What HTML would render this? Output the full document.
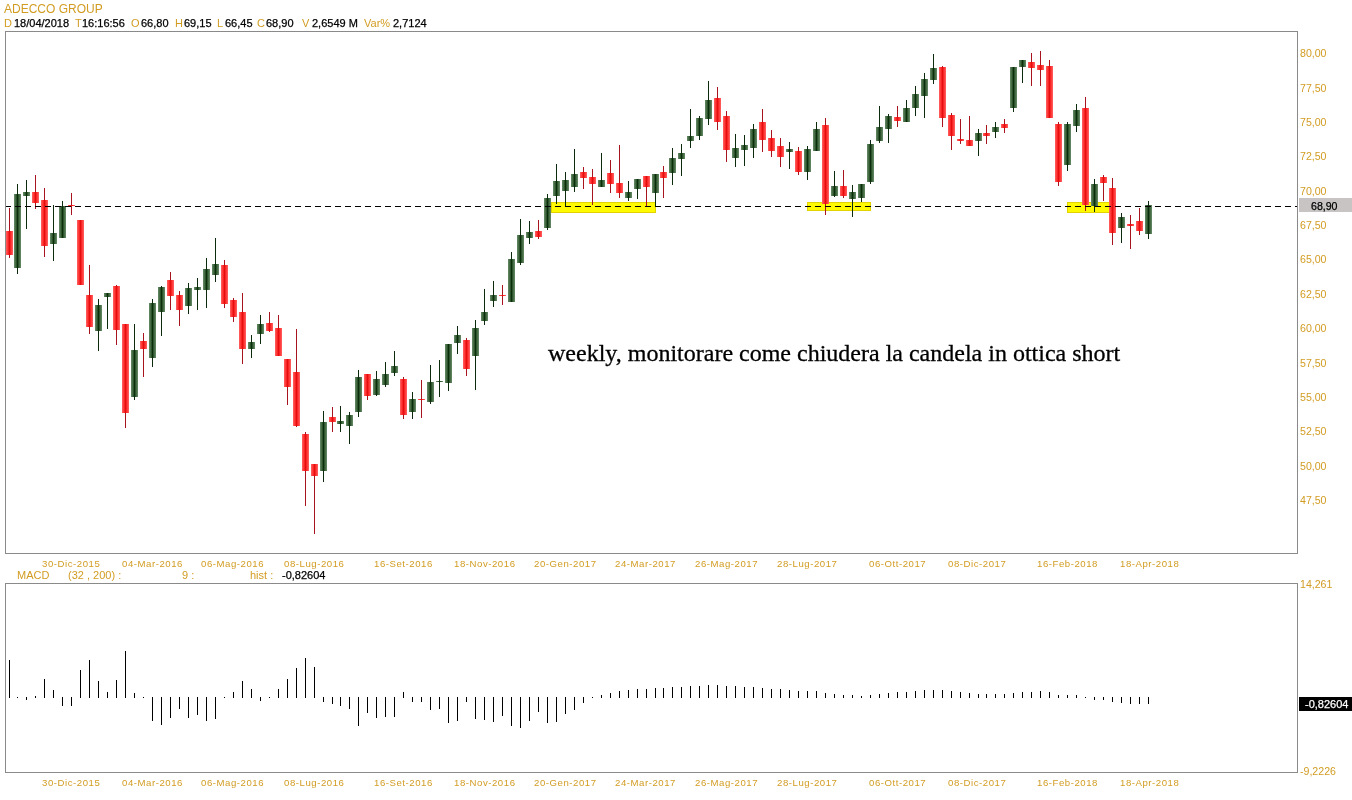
<!DOCTYPE html>
<html><head><meta charset="utf-8"><style>
html,body{margin:0;padding:0;background:#fff;}
body{width:1352px;height:800px;position:relative;overflow:hidden;}
.t{position:absolute;white-space:nowrap;will-change:transform;font-family:"Liberation Sans",sans-serif;line-height:1;}
.serif{font-family:"Liberation Serif",serif;}
</style></head><body>
<svg width="1352" height="800" style="position:absolute;left:0;top:0" shape-rendering="crispEdges"><defs><linearGradient id="gg" x1="0" x2="1" y1="0" y2="0"><stop offset="0" stop-color="#6A8C6A"/><stop offset="0.3" stop-color="#3A623A"/><stop offset="0.5" stop-color="#0A2E0A"/><stop offset="0.7" stop-color="#3A623A"/><stop offset="1" stop-color="#6A8C6A"/></linearGradient><linearGradient id="rg" x1="0" x2="1" y1="0" y2="0"><stop offset="0" stop-color="#FF6464"/><stop offset="0.3" stop-color="#FF2E2E"/><stop offset="0.5" stop-color="#E40E0E"/><stop offset="0.7" stop-color="#FF2E2E"/><stop offset="1" stop-color="#FF6464"/></linearGradient></defs><rect x="551" y="202" width="105" height="11" fill="#E2D200"/><rect x="552" y="203" width="103" height="9" fill="#FFFA00"/><rect x="807" y="202" width="64" height="9" fill="#E2D200"/><rect x="808" y="203" width="62" height="7" fill="#FFFA00"/><rect x="1067" y="202" width="43" height="11" fill="#E2D200"/><rect x="1068" y="203" width="41" height="9" fill="#FFFA00"/><rect x="6" y="231" width="7" height="24" fill="url(#rg)"/><rect x="9" y="208" width="1" height="23" fill="#A8141E"/><rect x="9" y="255" width="1" height="3" fill="#A8141E"/><rect x="14" y="194" width="7" height="74" fill="url(#gg)"/><rect x="17" y="184" width="1" height="10" fill="#0C2A0C"/><rect x="17" y="268" width="1" height="6" fill="#0C2A0C"/><rect x="23" y="192" width="7" height="4" fill="url(#gg)"/><rect x="26" y="180" width="1" height="12" fill="#0C2A0C"/><rect x="26" y="196" width="1" height="33" fill="#0C2A0C"/><rect x="32" y="192" width="7" height="11" fill="url(#rg)"/><rect x="35" y="175" width="1" height="17" fill="#A8141E"/><rect x="35" y="203" width="1" height="6" fill="#A8141E"/><rect x="41" y="200" width="7" height="46" fill="url(#rg)"/><rect x="44" y="188" width="1" height="12" fill="#A8141E"/><rect x="44" y="246" width="1" height="11" fill="#A8141E"/><rect x="50" y="233" width="7" height="11" fill="url(#gg)"/><rect x="53" y="205" width="1" height="28" fill="#0C2A0C"/><rect x="53" y="244" width="1" height="17" fill="#0C2A0C"/><rect x="59" y="206" width="7" height="32" fill="url(#gg)"/><rect x="62" y="201" width="1" height="5" fill="#0C2A0C"/><rect x="68" y="205" width="7" height="1" fill="url(#rg)"/><rect x="71" y="193" width="1" height="12" fill="#A8141E"/><rect x="71" y="206" width="1" height="9" fill="#A8141E"/><rect x="77" y="220" width="7" height="65" fill="url(#rg)"/><rect x="86" y="295" width="7" height="32" fill="url(#rg)"/><rect x="89" y="265" width="1" height="30" fill="#A8141E"/><rect x="89" y="327" width="1" height="7" fill="#A8141E"/><rect x="95" y="305" width="7" height="26" fill="url(#gg)"/><rect x="98" y="299" width="1" height="6" fill="#0C2A0C"/><rect x="98" y="331" width="1" height="20" fill="#0C2A0C"/><rect x="104" y="293" width="7" height="4" fill="url(#gg)"/><rect x="107" y="297" width="1" height="32" fill="#0C2A0C"/><rect x="113" y="286" width="7" height="44" fill="url(#rg)"/><rect x="116" y="285" width="1" height="1" fill="#A8141E"/><rect x="116" y="330" width="1" height="15" fill="#A8141E"/><rect x="122" y="324" width="7" height="89" fill="url(#rg)"/><rect x="125" y="413" width="1" height="15" fill="#A8141E"/><rect x="131" y="350" width="7" height="47" fill="url(#gg)"/><rect x="134" y="324" width="1" height="26" fill="#0C2A0C"/><rect x="134" y="397" width="1" height="3" fill="#0C2A0C"/><rect x="140" y="341" width="7" height="8" fill="url(#rg)"/><rect x="143" y="333" width="1" height="8" fill="#A8141E"/><rect x="143" y="349" width="1" height="28" fill="#A8141E"/><rect x="149" y="303" width="7" height="55" fill="url(#gg)"/><rect x="152" y="299" width="1" height="4" fill="#0C2A0C"/><rect x="152" y="358" width="1" height="9" fill="#0C2A0C"/><rect x="158" y="287" width="7" height="25" fill="url(#gg)"/><rect x="161" y="286" width="1" height="1" fill="#0C2A0C"/><rect x="161" y="312" width="1" height="24" fill="#0C2A0C"/><rect x="167" y="280" width="7" height="16" fill="url(#rg)"/><rect x="170" y="272" width="1" height="8" fill="#A8141E"/><rect x="170" y="296" width="1" height="14" fill="#A8141E"/><rect x="176" y="295" width="7" height="15" fill="url(#rg)"/><rect x="179" y="291" width="1" height="4" fill="#A8141E"/><rect x="179" y="310" width="1" height="16" fill="#A8141E"/><rect x="185" y="288" width="7" height="18" fill="url(#gg)"/><rect x="188" y="283" width="1" height="5" fill="#0C2A0C"/><rect x="188" y="306" width="1" height="8" fill="#0C2A0C"/><rect x="194" y="287" width="7" height="3" fill="url(#gg)"/><rect x="197" y="278" width="1" height="9" fill="#0C2A0C"/><rect x="197" y="290" width="1" height="20" fill="#0C2A0C"/><rect x="203" y="269" width="7" height="21" fill="url(#gg)"/><rect x="206" y="258" width="1" height="11" fill="#0C2A0C"/><rect x="206" y="290" width="1" height="18" fill="#0C2A0C"/><rect x="212" y="264" width="7" height="11" fill="url(#gg)"/><rect x="215" y="238" width="1" height="26" fill="#0C2A0C"/><rect x="215" y="275" width="1" height="7" fill="#0C2A0C"/><rect x="221" y="265" width="7" height="39" fill="url(#rg)"/><rect x="224" y="260" width="1" height="5" fill="#A8141E"/><rect x="224" y="304" width="1" height="4" fill="#A8141E"/><rect x="230" y="300" width="7" height="17" fill="url(#rg)"/><rect x="233" y="298" width="1" height="2" fill="#A8141E"/><rect x="233" y="317" width="1" height="5" fill="#A8141E"/><rect x="239" y="312" width="7" height="37" fill="url(#rg)"/><rect x="242" y="293" width="1" height="19" fill="#A8141E"/><rect x="242" y="349" width="1" height="15" fill="#A8141E"/><rect x="248" y="342" width="7" height="7" fill="url(#gg)"/><rect x="251" y="335" width="1" height="7" fill="#0C2A0C"/><rect x="251" y="349" width="1" height="9" fill="#0C2A0C"/><rect x="257" y="324" width="7" height="10" fill="url(#gg)"/><rect x="260" y="315" width="1" height="9" fill="#0C2A0C"/><rect x="260" y="334" width="1" height="10" fill="#0C2A0C"/><rect x="266" y="323" width="7" height="8" fill="url(#rg)"/><rect x="269" y="312" width="1" height="11" fill="#A8141E"/><rect x="269" y="331" width="1" height="1" fill="#A8141E"/><rect x="275" y="328" width="7" height="28" fill="url(#rg)"/><rect x="278" y="315" width="1" height="13" fill="#A8141E"/><rect x="284" y="359" width="7" height="28" fill="url(#rg)"/><rect x="287" y="387" width="1" height="18" fill="#A8141E"/><rect x="293" y="372" width="7" height="54" fill="url(#rg)"/><rect x="296" y="329" width="1" height="43" fill="#A8141E"/><rect x="296" y="426" width="1" height="1" fill="#A8141E"/><rect x="302" y="434" width="7" height="37" fill="url(#rg)"/><rect x="305" y="432" width="1" height="2" fill="#A8141E"/><rect x="305" y="471" width="1" height="35" fill="#A8141E"/><rect x="311" y="464" width="7" height="12" fill="url(#rg)"/><rect x="314" y="476" width="1" height="58" fill="#A8141E"/><rect x="320" y="422" width="7" height="49" fill="url(#gg)"/><rect x="323" y="411" width="1" height="11" fill="#0C2A0C"/><rect x="323" y="471" width="1" height="11" fill="#0C2A0C"/><rect x="329" y="417" width="7" height="5" fill="url(#rg)"/><rect x="332" y="407" width="1" height="10" fill="#A8141E"/><rect x="332" y="422" width="1" height="10" fill="#A8141E"/><rect x="337" y="421" width="7" height="3" fill="url(#gg)"/><rect x="340" y="406" width="1" height="15" fill="#0C2A0C"/><rect x="340" y="424" width="1" height="8" fill="#0C2A0C"/><rect x="346" y="415" width="7" height="11" fill="url(#gg)"/><rect x="349" y="412" width="1" height="3" fill="#0C2A0C"/><rect x="349" y="426" width="1" height="18" fill="#0C2A0C"/><rect x="355" y="377" width="7" height="35" fill="url(#gg)"/><rect x="358" y="370" width="1" height="7" fill="#0C2A0C"/><rect x="358" y="412" width="1" height="5" fill="#0C2A0C"/><rect x="364" y="374" width="7" height="22" fill="url(#rg)"/><rect x="367" y="396" width="1" height="4" fill="#A8141E"/><rect x="373" y="379" width="7" height="16" fill="url(#gg)"/><rect x="376" y="371" width="1" height="8" fill="#0C2A0C"/><rect x="376" y="395" width="1" height="1" fill="#0C2A0C"/><rect x="382" y="374" width="7" height="11" fill="url(#gg)"/><rect x="385" y="362" width="1" height="12" fill="#0C2A0C"/><rect x="385" y="385" width="1" height="2" fill="#0C2A0C"/><rect x="391" y="366" width="7" height="7" fill="url(#gg)"/><rect x="394" y="351" width="1" height="15" fill="#0C2A0C"/><rect x="394" y="373" width="1" height="3" fill="#0C2A0C"/><rect x="400" y="379" width="7" height="36" fill="url(#rg)"/><rect x="403" y="377" width="1" height="2" fill="#A8141E"/><rect x="403" y="415" width="1" height="4" fill="#A8141E"/><rect x="409" y="399" width="7" height="13" fill="url(#gg)"/><rect x="412" y="392" width="1" height="7" fill="#0C2A0C"/><rect x="412" y="412" width="1" height="7" fill="#0C2A0C"/><rect x="418" y="399" width="7" height="1" fill="url(#rg)"/><rect x="421" y="380" width="1" height="19" fill="#A8141E"/><rect x="421" y="400" width="1" height="18" fill="#A8141E"/><rect x="427" y="382" width="7" height="20" fill="url(#gg)"/><rect x="430" y="365" width="1" height="17" fill="#0C2A0C"/><rect x="430" y="402" width="1" height="2" fill="#0C2A0C"/><rect x="436" y="381" width="7" height="1" fill="url(#gg)"/><rect x="439" y="360" width="1" height="21" fill="#0C2A0C"/><rect x="439" y="382" width="1" height="15" fill="#0C2A0C"/><rect x="445" y="344" width="7" height="39" fill="url(#gg)"/><rect x="448" y="383" width="1" height="8" fill="#0C2A0C"/><rect x="454" y="335" width="7" height="8" fill="url(#gg)"/><rect x="457" y="326" width="1" height="9" fill="#0C2A0C"/><rect x="457" y="343" width="1" height="11" fill="#0C2A0C"/><rect x="463" y="340" width="7" height="29" fill="url(#rg)"/><rect x="466" y="338" width="1" height="2" fill="#A8141E"/><rect x="466" y="369" width="1" height="7" fill="#A8141E"/><rect x="472" y="328" width="7" height="28" fill="url(#gg)"/><rect x="475" y="320" width="1" height="8" fill="#0C2A0C"/><rect x="475" y="356" width="1" height="34" fill="#0C2A0C"/><rect x="481" y="312" width="7" height="9" fill="url(#gg)"/><rect x="484" y="289" width="1" height="23" fill="#0C2A0C"/><rect x="484" y="321" width="1" height="4" fill="#0C2A0C"/><rect x="490" y="295" width="7" height="6" fill="url(#gg)"/><rect x="493" y="281" width="1" height="14" fill="#0C2A0C"/><rect x="493" y="301" width="1" height="6" fill="#0C2A0C"/><rect x="499" y="295" width="7" height="1" fill="url(#rg)"/><rect x="502" y="285" width="1" height="10" fill="#A8141E"/><rect x="502" y="296" width="1" height="9" fill="#A8141E"/><rect x="508" y="259" width="7" height="43" fill="url(#gg)"/><rect x="511" y="252" width="1" height="7" fill="#0C2A0C"/><rect x="517" y="235" width="7" height="28" fill="url(#gg)"/><rect x="520" y="219" width="1" height="16" fill="#0C2A0C"/><rect x="520" y="263" width="1" height="2" fill="#0C2A0C"/><rect x="526" y="232" width="7" height="6" fill="url(#gg)"/><rect x="529" y="221" width="1" height="11" fill="#0C2A0C"/><rect x="529" y="238" width="1" height="6" fill="#0C2A0C"/><rect x="535" y="231" width="7" height="6" fill="url(#rg)"/><rect x="538" y="220" width="1" height="11" fill="#A8141E"/><rect x="538" y="237" width="1" height="2" fill="#A8141E"/><rect x="544" y="198" width="7" height="30" fill="url(#gg)"/><rect x="547" y="194" width="1" height="4" fill="#0C2A0C"/><rect x="547" y="228" width="1" height="2" fill="#0C2A0C"/><rect x="553" y="181" width="7" height="15" fill="url(#gg)"/><rect x="556" y="164" width="1" height="17" fill="#0C2A0C"/><rect x="556" y="196" width="1" height="8" fill="#0C2A0C"/><rect x="562" y="180" width="7" height="11" fill="url(#gg)"/><rect x="565" y="172" width="1" height="8" fill="#0C2A0C"/><rect x="565" y="191" width="1" height="15" fill="#0C2A0C"/><rect x="571" y="174" width="7" height="13" fill="url(#gg)"/><rect x="574" y="149" width="1" height="25" fill="#0C2A0C"/><rect x="574" y="187" width="1" height="5" fill="#0C2A0C"/><rect x="580" y="172" width="7" height="6" fill="url(#rg)"/><rect x="583" y="167" width="1" height="5" fill="#A8141E"/><rect x="583" y="178" width="1" height="11" fill="#A8141E"/><rect x="589" y="177" width="7" height="7" fill="url(#rg)"/><rect x="592" y="169" width="1" height="8" fill="#A8141E"/><rect x="592" y="184" width="1" height="21" fill="#A8141E"/><rect x="598" y="180" width="7" height="7" fill="url(#gg)"/><rect x="601" y="153" width="1" height="27" fill="#0C2A0C"/><rect x="607" y="173" width="7" height="11" fill="url(#rg)"/><rect x="610" y="160" width="1" height="13" fill="#A8141E"/><rect x="610" y="184" width="1" height="9" fill="#A8141E"/><rect x="616" y="183" width="7" height="10" fill="url(#rg)"/><rect x="619" y="145" width="1" height="38" fill="#A8141E"/><rect x="619" y="193" width="1" height="5" fill="#A8141E"/><rect x="625" y="192" width="7" height="6" fill="url(#gg)"/><rect x="628" y="181" width="1" height="11" fill="#0C2A0C"/><rect x="628" y="198" width="1" height="3" fill="#0C2A0C"/><rect x="634" y="179" width="7" height="10" fill="url(#gg)"/><rect x="637" y="189" width="1" height="10" fill="#0C2A0C"/><rect x="643" y="176" width="7" height="11" fill="url(#rg)"/><rect x="646" y="187" width="1" height="20" fill="#A8141E"/><rect x="652" y="174" width="7" height="19" fill="url(#gg)"/><rect x="655" y="193" width="1" height="13" fill="#0C2A0C"/><rect x="660" y="172" width="7" height="6" fill="url(#rg)"/><rect x="663" y="166" width="1" height="6" fill="#A8141E"/><rect x="663" y="178" width="1" height="20" fill="#A8141E"/><rect x="669" y="158" width="7" height="15" fill="url(#gg)"/><rect x="672" y="148" width="1" height="10" fill="#0C2A0C"/><rect x="672" y="173" width="1" height="12" fill="#0C2A0C"/><rect x="678" y="153" width="7" height="6" fill="url(#gg)"/><rect x="681" y="144" width="1" height="9" fill="#0C2A0C"/><rect x="681" y="159" width="1" height="17" fill="#0C2A0C"/><rect x="687" y="136" width="7" height="5" fill="url(#gg)"/><rect x="690" y="109" width="1" height="27" fill="#0C2A0C"/><rect x="690" y="141" width="1" height="7" fill="#0C2A0C"/><rect x="696" y="118" width="7" height="18" fill="url(#gg)"/><rect x="699" y="116" width="1" height="2" fill="#0C2A0C"/><rect x="699" y="136" width="1" height="4" fill="#0C2A0C"/><rect x="705" y="100" width="7" height="19" fill="url(#gg)"/><rect x="708" y="81" width="1" height="19" fill="#0C2A0C"/><rect x="708" y="119" width="1" height="6" fill="#0C2A0C"/><rect x="714" y="98" width="7" height="24" fill="url(#rg)"/><rect x="717" y="87" width="1" height="11" fill="#A8141E"/><rect x="717" y="122" width="1" height="8" fill="#A8141E"/><rect x="723" y="116" width="7" height="34" fill="url(#rg)"/><rect x="726" y="111" width="1" height="5" fill="#A8141E"/><rect x="726" y="150" width="1" height="12" fill="#A8141E"/><rect x="732" y="148" width="7" height="10" fill="url(#gg)"/><rect x="735" y="134" width="1" height="14" fill="#0C2A0C"/><rect x="735" y="158" width="1" height="9" fill="#0C2A0C"/><rect x="741" y="145" width="7" height="5" fill="url(#gg)"/><rect x="744" y="135" width="1" height="10" fill="#0C2A0C"/><rect x="744" y="150" width="1" height="16" fill="#0C2A0C"/><rect x="750" y="129" width="7" height="19" fill="url(#gg)"/><rect x="753" y="124" width="1" height="5" fill="#0C2A0C"/><rect x="753" y="148" width="1" height="10" fill="#0C2A0C"/><rect x="759" y="122" width="7" height="18" fill="url(#rg)"/><rect x="762" y="109" width="1" height="13" fill="#A8141E"/><rect x="762" y="140" width="1" height="12" fill="#A8141E"/><rect x="768" y="138" width="7" height="13" fill="url(#rg)"/><rect x="771" y="130" width="1" height="8" fill="#A8141E"/><rect x="771" y="151" width="1" height="6" fill="#A8141E"/><rect x="777" y="146" width="7" height="11" fill="url(#rg)"/><rect x="780" y="138" width="1" height="8" fill="#A8141E"/><rect x="780" y="157" width="1" height="10" fill="#A8141E"/><rect x="786" y="149" width="7" height="3" fill="url(#gg)"/><rect x="789" y="142" width="1" height="7" fill="#0C2A0C"/><rect x="789" y="152" width="1" height="17" fill="#0C2A0C"/><rect x="795" y="151" width="7" height="21" fill="url(#rg)"/><rect x="798" y="147" width="1" height="4" fill="#A8141E"/><rect x="798" y="172" width="1" height="3" fill="#A8141E"/><rect x="804" y="149" width="7" height="23" fill="url(#gg)"/><rect x="807" y="146" width="1" height="3" fill="#0C2A0C"/><rect x="807" y="172" width="1" height="8" fill="#0C2A0C"/><rect x="813" y="129" width="7" height="22" fill="url(#gg)"/><rect x="816" y="122" width="1" height="7" fill="#0C2A0C"/><rect x="822" y="125" width="7" height="79" fill="url(#rg)"/><rect x="825" y="118" width="1" height="7" fill="#A8141E"/><rect x="825" y="204" width="1" height="11" fill="#A8141E"/><rect x="831" y="186" width="7" height="10" fill="url(#gg)"/><rect x="834" y="171" width="1" height="15" fill="#0C2A0C"/><rect x="834" y="196" width="1" height="1" fill="#0C2A0C"/><rect x="840" y="186" width="7" height="10" fill="url(#rg)"/><rect x="843" y="170" width="1" height="16" fill="#A8141E"/><rect x="843" y="196" width="1" height="2" fill="#A8141E"/><rect x="849" y="192" width="7" height="7" fill="url(#gg)"/><rect x="852" y="185" width="1" height="7" fill="#0C2A0C"/><rect x="852" y="199" width="1" height="18" fill="#0C2A0C"/><rect x="858" y="184" width="7" height="14" fill="url(#gg)"/><rect x="861" y="198" width="1" height="4" fill="#0C2A0C"/><rect x="867" y="144" width="7" height="38" fill="url(#gg)"/><rect x="870" y="140" width="1" height="4" fill="#0C2A0C"/><rect x="870" y="182" width="1" height="2" fill="#0C2A0C"/><rect x="876" y="127" width="7" height="14" fill="url(#gg)"/><rect x="879" y="106" width="1" height="21" fill="#0C2A0C"/><rect x="879" y="141" width="1" height="2" fill="#0C2A0C"/><rect x="885" y="116" width="7" height="13" fill="url(#gg)"/><rect x="888" y="114" width="1" height="2" fill="#0C2A0C"/><rect x="888" y="129" width="1" height="14" fill="#0C2A0C"/><rect x="894" y="117" width="7" height="4" fill="url(#rg)"/><rect x="897" y="106" width="1" height="11" fill="#A8141E"/><rect x="897" y="121" width="1" height="6" fill="#A8141E"/><rect x="903" y="108" width="7" height="14" fill="url(#gg)"/><rect x="906" y="100" width="1" height="8" fill="#0C2A0C"/><rect x="912" y="94" width="7" height="14" fill="url(#gg)"/><rect x="915" y="86" width="1" height="8" fill="#0C2A0C"/><rect x="915" y="108" width="1" height="8" fill="#0C2A0C"/><rect x="921" y="79" width="7" height="17" fill="url(#gg)"/><rect x="924" y="73" width="1" height="6" fill="#0C2A0C"/><rect x="924" y="96" width="1" height="22" fill="#0C2A0C"/><rect x="930" y="68" width="7" height="12" fill="url(#gg)"/><rect x="933" y="54" width="1" height="14" fill="#0C2A0C"/><rect x="933" y="80" width="1" height="4" fill="#0C2A0C"/><rect x="939" y="67" width="7" height="51" fill="url(#rg)"/><rect x="942" y="66" width="1" height="1" fill="#A8141E"/><rect x="942" y="118" width="1" height="9" fill="#A8141E"/><rect x="948" y="115" width="7" height="21" fill="url(#rg)"/><rect x="951" y="113" width="1" height="2" fill="#A8141E"/><rect x="951" y="136" width="1" height="14" fill="#A8141E"/><rect x="957" y="139" width="7" height="2" fill="url(#rg)"/><rect x="960" y="119" width="1" height="20" fill="#A8141E"/><rect x="960" y="141" width="1" height="3" fill="#A8141E"/><rect x="966" y="140" width="7" height="6" fill="url(#rg)"/><rect x="969" y="116" width="1" height="24" fill="#A8141E"/><rect x="975" y="133" width="7" height="8" fill="url(#gg)"/><rect x="978" y="129" width="1" height="4" fill="#0C2A0C"/><rect x="978" y="141" width="1" height="15" fill="#0C2A0C"/><rect x="983" y="133" width="7" height="3" fill="url(#rg)"/><rect x="986" y="125" width="1" height="8" fill="#A8141E"/><rect x="986" y="136" width="1" height="8" fill="#A8141E"/><rect x="992" y="127" width="7" height="5" fill="url(#gg)"/><rect x="995" y="122" width="1" height="5" fill="#0C2A0C"/><rect x="995" y="132" width="1" height="6" fill="#0C2A0C"/><rect x="1001" y="124" width="7" height="4" fill="url(#rg)"/><rect x="1004" y="119" width="1" height="5" fill="#A8141E"/><rect x="1004" y="128" width="1" height="5" fill="#A8141E"/><rect x="1010" y="67" width="7" height="41" fill="url(#gg)"/><rect x="1013" y="108" width="1" height="4" fill="#0C2A0C"/><rect x="1019" y="60" width="7" height="7" fill="url(#gg)"/><rect x="1022" y="67" width="1" height="16" fill="#0C2A0C"/><rect x="1028" y="62" width="7" height="6" fill="url(#rg)"/><rect x="1031" y="53" width="1" height="9" fill="#A8141E"/><rect x="1031" y="68" width="1" height="18" fill="#A8141E"/><rect x="1037" y="65" width="7" height="5" fill="url(#rg)"/><rect x="1040" y="51" width="1" height="14" fill="#A8141E"/><rect x="1040" y="70" width="1" height="16" fill="#A8141E"/><rect x="1046" y="66" width="7" height="52" fill="url(#rg)"/><rect x="1049" y="60" width="1" height="6" fill="#A8141E"/><rect x="1055" y="124" width="7" height="58" fill="url(#rg)"/><rect x="1058" y="122" width="1" height="2" fill="#A8141E"/><rect x="1058" y="182" width="1" height="4" fill="#A8141E"/><rect x="1064" y="124" width="7" height="41" fill="url(#gg)"/><rect x="1067" y="122" width="1" height="2" fill="#0C2A0C"/><rect x="1067" y="165" width="1" height="6" fill="#0C2A0C"/><rect x="1073" y="110" width="7" height="16" fill="url(#gg)"/><rect x="1076" y="104" width="1" height="6" fill="#0C2A0C"/><rect x="1076" y="126" width="1" height="6" fill="#0C2A0C"/><rect x="1082" y="108" width="7" height="97" fill="url(#rg)"/><rect x="1085" y="97" width="1" height="11" fill="#A8141E"/><rect x="1085" y="205" width="1" height="6" fill="#A8141E"/><rect x="1091" y="184" width="7" height="22" fill="url(#gg)"/><rect x="1094" y="179" width="1" height="5" fill="#0C2A0C"/><rect x="1094" y="206" width="1" height="6" fill="#0C2A0C"/><rect x="1100" y="177" width="7" height="6" fill="url(#rg)"/><rect x="1103" y="175" width="1" height="2" fill="#A8141E"/><rect x="1103" y="183" width="1" height="18" fill="#A8141E"/><rect x="1109" y="188" width="7" height="45" fill="url(#rg)"/><rect x="1112" y="178" width="1" height="10" fill="#A8141E"/><rect x="1112" y="233" width="1" height="12" fill="#A8141E"/><rect x="1118" y="217" width="7" height="11" fill="url(#gg)"/><rect x="1121" y="213" width="1" height="4" fill="#0C2A0C"/><rect x="1121" y="228" width="1" height="15" fill="#0C2A0C"/><rect x="1127" y="224" width="7" height="2" fill="url(#rg)"/><rect x="1130" y="215" width="1" height="9" fill="#A8141E"/><rect x="1130" y="226" width="1" height="23" fill="#A8141E"/><rect x="1136" y="221" width="7" height="10" fill="url(#rg)"/><rect x="1139" y="208" width="1" height="13" fill="#A8141E"/><rect x="1139" y="231" width="1" height="4" fill="#A8141E"/><rect x="1145" y="205" width="7" height="29" fill="url(#gg)"/><rect x="1148" y="201" width="1" height="4" fill="#0C2A0C"/><rect x="1148" y="234" width="1" height="5" fill="#0C2A0C"/><line x1="5" y1="206.5" x2="1297" y2="206.5" stroke="#000" stroke-width="1" stroke-dasharray="6 4"/><rect x="9" y="660" width="1" height="38" fill="#000"/><rect x="17" y="697" width="1" height="1" fill="#000"/><rect x="26" y="697" width="1" height="3" fill="#000"/><rect x="35" y="696" width="1" height="2" fill="#000"/><rect x="44" y="679" width="1" height="19" fill="#000"/><rect x="53" y="690" width="1" height="8" fill="#000"/><rect x="62" y="697" width="1" height="9" fill="#000"/><rect x="71" y="697" width="1" height="9" fill="#000"/><rect x="80" y="670" width="1" height="28" fill="#000"/><rect x="89" y="660" width="1" height="38" fill="#000"/><rect x="98" y="681" width="1" height="17" fill="#000"/><rect x="107" y="692" width="1" height="6" fill="#000"/><rect x="116" y="680" width="1" height="18" fill="#000"/><rect x="125" y="651" width="1" height="47" fill="#000"/><rect x="134" y="693" width="1" height="5" fill="#000"/><rect x="143" y="697" width="1" height="1" fill="#000"/><rect x="152" y="697" width="1" height="24" fill="#000"/><rect x="161" y="697" width="1" height="28" fill="#000"/><rect x="170" y="697" width="1" height="21" fill="#000"/><rect x="179" y="697" width="1" height="12" fill="#000"/><rect x="188" y="697" width="1" height="21" fill="#000"/><rect x="197" y="697" width="1" height="18" fill="#000"/><rect x="206" y="697" width="1" height="24" fill="#000"/><rect x="215" y="697" width="1" height="22" fill="#000"/><rect x="224" y="697" width="1" height="1" fill="#000"/><rect x="233" y="692" width="1" height="6" fill="#000"/><rect x="242" y="681" width="1" height="17" fill="#000"/><rect x="251" y="689" width="1" height="9" fill="#000"/><rect x="260" y="697" width="1" height="4" fill="#000"/><rect x="269" y="697" width="1" height="1" fill="#000"/><rect x="278" y="689" width="1" height="9" fill="#000"/><rect x="287" y="679" width="1" height="19" fill="#000"/><rect x="296" y="668" width="1" height="30" fill="#000"/><rect x="305" y="658" width="1" height="40" fill="#000"/><rect x="314" y="667" width="1" height="31" fill="#000"/><rect x="323" y="697" width="1" height="5" fill="#000"/><rect x="332" y="697" width="1" height="7" fill="#000"/><rect x="340" y="697" width="1" height="9" fill="#000"/><rect x="349" y="697" width="1" height="12" fill="#000"/><rect x="358" y="697" width="1" height="29" fill="#000"/><rect x="367" y="697" width="1" height="16" fill="#000"/><rect x="376" y="697" width="1" height="21" fill="#000"/><rect x="385" y="697" width="1" height="20" fill="#000"/><rect x="394" y="697" width="1" height="20" fill="#000"/><rect x="403" y="692" width="1" height="6" fill="#000"/><rect x="412" y="697" width="1" height="5" fill="#000"/><rect x="421" y="697" width="1" height="5" fill="#000"/><rect x="430" y="697" width="1" height="13" fill="#000"/><rect x="439" y="697" width="1" height="12" fill="#000"/><rect x="448" y="697" width="1" height="26" fill="#000"/><rect x="457" y="697" width="1" height="24" fill="#000"/><rect x="466" y="697" width="1" height="5" fill="#000"/><rect x="475" y="697" width="1" height="22" fill="#000"/><rect x="484" y="697" width="1" height="23" fill="#000"/><rect x="493" y="697" width="1" height="25" fill="#000"/><rect x="502" y="697" width="1" height="19" fill="#000"/><rect x="511" y="697" width="1" height="29" fill="#000"/><rect x="520" y="697" width="1" height="31" fill="#000"/><rect x="529" y="697" width="1" height="24" fill="#000"/><rect x="538" y="697" width="1" height="15" fill="#000"/><rect x="547" y="697" width="1" height="26" fill="#000"/><rect x="556" y="697" width="1" height="25" fill="#000"/><rect x="565" y="697" width="1" height="17" fill="#000"/><rect x="574" y="697" width="1" height="13" fill="#000"/><rect x="583" y="697" width="1" height="6" fill="#000"/><rect x="592" y="697" width="1" height="1" fill="#000"/><rect x="601" y="695" width="1" height="3" fill="#000"/><rect x="610" y="693" width="1" height="5" fill="#000"/><rect x="619" y="691" width="1" height="7" fill="#000"/><rect x="628" y="690" width="1" height="8" fill="#000"/><rect x="637" y="689" width="1" height="9" fill="#000"/><rect x="646" y="689" width="1" height="9" fill="#000"/><rect x="655" y="688" width="1" height="10" fill="#000"/><rect x="663" y="688" width="1" height="10" fill="#000"/><rect x="672" y="687" width="1" height="11" fill="#000"/><rect x="681" y="687" width="1" height="11" fill="#000"/><rect x="690" y="686" width="1" height="12" fill="#000"/><rect x="699" y="686" width="1" height="12" fill="#000"/><rect x="708" y="685" width="1" height="13" fill="#000"/><rect x="717" y="685" width="1" height="13" fill="#000"/><rect x="726" y="686" width="1" height="12" fill="#000"/><rect x="735" y="686" width="1" height="12" fill="#000"/><rect x="744" y="687" width="1" height="11" fill="#000"/><rect x="753" y="687" width="1" height="11" fill="#000"/><rect x="762" y="688" width="1" height="10" fill="#000"/><rect x="771" y="689" width="1" height="9" fill="#000"/><rect x="780" y="689" width="1" height="9" fill="#000"/><rect x="789" y="690" width="1" height="8" fill="#000"/><rect x="798" y="691" width="1" height="7" fill="#000"/><rect x="807" y="691" width="1" height="7" fill="#000"/><rect x="816" y="691" width="1" height="7" fill="#000"/><rect x="825" y="693" width="1" height="5" fill="#000"/><rect x="834" y="694" width="1" height="4" fill="#000"/><rect x="843" y="695" width="1" height="3" fill="#000"/><rect x="852" y="695" width="1" height="3" fill="#000"/><rect x="861" y="696" width="1" height="2" fill="#000"/><rect x="870" y="695" width="1" height="3" fill="#000"/><rect x="879" y="694" width="1" height="4" fill="#000"/><rect x="888" y="693" width="1" height="5" fill="#000"/><rect x="897" y="692" width="1" height="6" fill="#000"/><rect x="906" y="692" width="1" height="6" fill="#000"/><rect x="915" y="691" width="1" height="7" fill="#000"/><rect x="924" y="690" width="1" height="8" fill="#000"/><rect x="933" y="690" width="1" height="8" fill="#000"/><rect x="942" y="690" width="1" height="8" fill="#000"/><rect x="951" y="691" width="1" height="7" fill="#000"/><rect x="960" y="692" width="1" height="6" fill="#000"/><rect x="969" y="693" width="1" height="5" fill="#000"/><rect x="978" y="694" width="1" height="4" fill="#000"/><rect x="986" y="694" width="1" height="4" fill="#000"/><rect x="995" y="694" width="1" height="4" fill="#000"/><rect x="1004" y="694" width="1" height="4" fill="#000"/><rect x="1013" y="693" width="1" height="5" fill="#000"/><rect x="1022" y="692" width="1" height="6" fill="#000"/><rect x="1031" y="692" width="1" height="6" fill="#000"/><rect x="1040" y="691" width="1" height="7" fill="#000"/><rect x="1049" y="692" width="1" height="6" fill="#000"/><rect x="1058" y="695" width="1" height="3" fill="#000"/><rect x="1067" y="695" width="1" height="3" fill="#000"/><rect x="1076" y="695" width="1" height="3" fill="#000"/><rect x="1085" y="697" width="1" height="1" fill="#000"/><rect x="1094" y="697" width="1" height="3" fill="#000"/><rect x="1103" y="697" width="1" height="3" fill="#000"/><rect x="1112" y="697" width="1" height="5" fill="#000"/><rect x="1121" y="697" width="1" height="6" fill="#000"/><rect x="1130" y="697" width="1" height="7" fill="#000"/><rect x="1139" y="697" width="1" height="7" fill="#000"/><rect x="1148" y="697" width="1" height="7" fill="#000"/><rect x="5.5" y="31.5" width="1292" height="522" fill="none" stroke="#8A8A8A" stroke-width="1"/><rect x="5.5" y="583.5" width="1292" height="189" fill="none" stroke="#8A8A8A" stroke-width="1"/><rect x="1299" y="198" width="53" height="14" fill="#C8C4C4"/><rect x="1299" y="697" width="53" height="14" fill="#000"/></svg>
<div class="t " style="left:4px;top:3px;color:#D29C22;font-size:12px;">ADECCO GROUP</div><div class="t h2" style="left:4px;top:18px;color:#D29C22;font-size:11px;">D</div><div class="t h2" style="left:14px;top:18px;color:#000;font-size:11px;-webkit-text-stroke:0.25px #000;">18/04/2018</div><div class="t h2" style="left:75px;top:18px;color:#D29C22;font-size:11px;">T</div><div class="t h2" style="left:82px;top:18px;color:#000;font-size:11px;-webkit-text-stroke:0.25px #000;">16:16:56</div><div class="t h2" style="left:131px;top:18px;color:#D29C22;font-size:11px;">O</div><div class="t h2" style="left:141px;top:18px;color:#000;font-size:11px;-webkit-text-stroke:0.25px #000;">66,80</div><div class="t h2" style="left:175px;top:18px;color:#D29C22;font-size:11px;">H</div><div class="t h2" style="left:184px;top:18px;color:#000;font-size:11px;-webkit-text-stroke:0.25px #000;">69,15</div><div class="t h2" style="left:217px;top:18px;color:#D29C22;font-size:11px;">L</div><div class="t h2" style="left:225px;top:18px;color:#000;font-size:11px;-webkit-text-stroke:0.25px #000;">66,45</div><div class="t h2" style="left:257px;top:18px;color:#D29C22;font-size:11px;">C</div><div class="t h2" style="left:266px;top:18px;color:#000;font-size:11px;-webkit-text-stroke:0.25px #000;">68,90</div><div class="t h2" style="left:302px;top:18px;color:#D29C22;font-size:11px;">V</div><div class="t h2" style="left:312px;top:18px;color:#000;font-size:11px;-webkit-text-stroke:0.25px #000;">2,6549 M</div><div class="t h2" style="left:364px;top:18px;color:#D29C22;font-size:11px;">Var%</div><div class="t h2" style="left:393px;top:18px;color:#000;font-size:11px;-webkit-text-stroke:0.25px #000;">2,7124</div><div class="t ax" style="left:1300px;top:48px;color:#D29C22;font-size:10.6px;">80,00</div><div class="t ax" style="left:1300px;top:83px;color:#D29C22;font-size:10.6px;">77,50</div><div class="t ax" style="left:1300px;top:117px;color:#D29C22;font-size:10.6px;">75,00</div><div class="t ax" style="left:1300px;top:151px;color:#D29C22;font-size:10.6px;">72,50</div><div class="t ax" style="left:1300px;top:186px;color:#D29C22;font-size:10.6px;">70,00</div><div class="t ax" style="left:1300px;top:220px;color:#D29C22;font-size:10.6px;">67,50</div><div class="t ax" style="left:1300px;top:254px;color:#D29C22;font-size:10.6px;">65,00</div><div class="t ax" style="left:1300px;top:289px;color:#D29C22;font-size:10.6px;">62,50</div><div class="t ax" style="left:1300px;top:323px;color:#D29C22;font-size:10.6px;">60,00</div><div class="t ax" style="left:1300px;top:358px;color:#D29C22;font-size:10.6px;">57,50</div><div class="t ax" style="left:1300px;top:392px;color:#D29C22;font-size:10.6px;">55,00</div><div class="t ax" style="left:1300px;top:426px;color:#D29C22;font-size:10.6px;">52,50</div><div class="t ax" style="left:1300px;top:461px;color:#D29C22;font-size:10.6px;">50,00</div><div class="t ax" style="left:1300px;top:495px;color:#D29C22;font-size:10.6px;">47,50</div><div class="t ax" style="left:1311px;top:200.5px;color:#000;font-size:10.6px;-webkit-text-stroke:0.25px #000;">68,90</div><div class="t dt" style="left:41.5px;top:559px;color:#D29C22;font-size:9.6px;letter-spacing:0.55px;">30-Dic-2015</div><div class="t dt" style="left:41.5px;top:778px;color:#D29C22;font-size:9.6px;letter-spacing:0.55px;">30-Dic-2015</div><div class="t dt" style="left:122px;top:559px;color:#D29C22;font-size:9.6px;letter-spacing:0.55px;">04-Mar-2016</div><div class="t dt" style="left:122px;top:778px;color:#D29C22;font-size:9.6px;letter-spacing:0.55px;">04-Mar-2016</div><div class="t dt" style="left:201.4px;top:559px;color:#D29C22;font-size:9.6px;letter-spacing:0.55px;">06-Mag-2016</div><div class="t dt" style="left:201.4px;top:778px;color:#D29C22;font-size:9.6px;letter-spacing:0.55px;">06-Mag-2016</div><div class="t dt" style="left:283.8px;top:559px;color:#D29C22;font-size:9.6px;letter-spacing:0.55px;">08-Lug-2016</div><div class="t dt" style="left:283.8px;top:778px;color:#D29C22;font-size:9.6px;letter-spacing:0.55px;">08-Lug-2016</div><div class="t dt" style="left:374px;top:559px;color:#D29C22;font-size:9.6px;letter-spacing:0.55px;">16-Set-2016</div><div class="t dt" style="left:374px;top:778px;color:#D29C22;font-size:9.6px;letter-spacing:0.55px;">16-Set-2016</div><div class="t dt" style="left:454.4px;top:559px;color:#D29C22;font-size:9.6px;letter-spacing:0.55px;">18-Nov-2016</div><div class="t dt" style="left:454.4px;top:778px;color:#D29C22;font-size:9.6px;letter-spacing:0.55px;">18-Nov-2016</div><div class="t dt" style="left:533.7px;top:559px;color:#D29C22;font-size:9.6px;letter-spacing:0.55px;">20-Gen-2017</div><div class="t dt" style="left:533.7px;top:778px;color:#D29C22;font-size:9.6px;letter-spacing:0.55px;">20-Gen-2017</div><div class="t dt" style="left:615.4px;top:559px;color:#D29C22;font-size:9.6px;letter-spacing:0.55px;">24-Mar-2017</div><div class="t dt" style="left:615.4px;top:778px;color:#D29C22;font-size:9.6px;letter-spacing:0.55px;">24-Mar-2017</div><div class="t dt" style="left:694.6px;top:559px;color:#D29C22;font-size:9.6px;letter-spacing:0.55px;">26-Mag-2017</div><div class="t dt" style="left:694.6px;top:778px;color:#D29C22;font-size:9.6px;letter-spacing:0.55px;">26-Mag-2017</div><div class="t dt" style="left:776.8px;top:559px;color:#D29C22;font-size:9.6px;letter-spacing:0.55px;">28-Lug-2017</div><div class="t dt" style="left:776.8px;top:778px;color:#D29C22;font-size:9.6px;letter-spacing:0.55px;">28-Lug-2017</div><div class="t dt" style="left:868.6px;top:559px;color:#D29C22;font-size:9.6px;letter-spacing:0.55px;">06-Ott-2017</div><div class="t dt" style="left:868.6px;top:778px;color:#D29C22;font-size:9.6px;letter-spacing:0.55px;">06-Ott-2017</div><div class="t dt" style="left:947.9px;top:559px;color:#D29C22;font-size:9.6px;letter-spacing:0.55px;">08-Dic-2017</div><div class="t dt" style="left:947.9px;top:778px;color:#D29C22;font-size:9.6px;letter-spacing:0.55px;">08-Dic-2017</div><div class="t dt" style="left:1037.2px;top:559px;color:#D29C22;font-size:9.6px;letter-spacing:0.55px;">16-Feb-2018</div><div class="t dt" style="left:1037.2px;top:778px;color:#D29C22;font-size:9.6px;letter-spacing:0.55px;">16-Feb-2018</div><div class="t dt" style="left:1119.5px;top:559px;color:#D29C22;font-size:9.6px;letter-spacing:0.55px;">18-Apr-2018</div><div class="t dt" style="left:1119.5px;top:778px;color:#D29C22;font-size:9.6px;letter-spacing:0.55px;">18-Apr-2018</div><div class="t m" style="left:17px;top:570px;color:#D29C22;font-size:11px;">MACD</div><div class="t m" style="left:68px;top:570px;color:#D29C22;font-size:11px;">(32 , 200) :</div><div class="t m" style="left:182px;top:570px;color:#D29C22;font-size:11px;">9 :</div><div class="t m" style="left:250px;top:570px;color:#D29C22;font-size:11px;">hist :</div><div class="t m" style="left:282px;top:570px;color:#000;font-size:11px;-webkit-text-stroke:0.25px #000;">-0,82604</div><div class="t ax" style="left:1300px;top:579px;color:#D29C22;font-size:10.6px;">14,261</div><div class="t ax" style="left:1305px;top:699px;color:#fff;font-size:11px;-webkit-text-stroke:0.25px #fff;">-0,82604</div><div class="t ax" style="left:1300px;top:766px;color:#D29C22;font-size:10.6px;">-9,2226</div><div class="t serif" style="left:548px;top:341px;color:#000;font-size:24px;-webkit-text-stroke:0.3px #000;">weekly, monitorare come chiudera la candela in ottica short</div>
</body></html>
